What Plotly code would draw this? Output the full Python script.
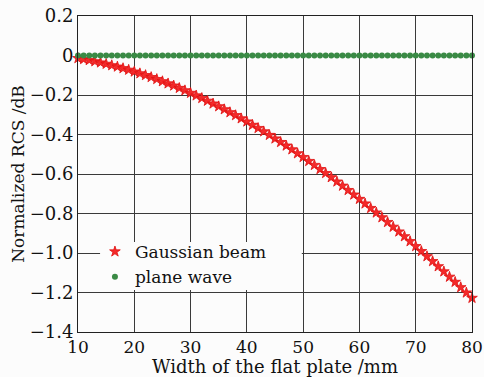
import plotly.graph_objects as go

width_mm = list(range(10, 81))
gaussian_beam = [
    -0.014, -0.019, -0.024, -0.030, -0.036, -0.043, -0.050, -0.057, -0.065, -0.073,
    -0.082, -0.091, -0.100, -0.110, -0.120, -0.131, -0.142, -0.153, -0.165, -0.177,
    -0.190, -0.203, -0.216, -0.230, -0.244, -0.258, -0.273, -0.288, -0.303, -0.319,
    -0.335, -0.352, -0.368, -0.385, -0.403, -0.421, -0.439, -0.457, -0.476, -0.496,
    -0.515, -0.535, -0.555, -0.576, -0.596, -0.617, -0.639, -0.660, -0.682, -0.705,
    -0.727, -0.750, -0.773, -0.796, -0.820, -0.844, -0.868, -0.892, -0.916, -0.941,
    -0.966, -0.991, -1.017, -1.042, -1.068, -1.094, -1.121, -1.147, -1.174, -1.201,
    -1.228,
]
plane_wave = [0.0] * 71

x_ticks = [10, 20, 30, 40, 50, 60, 70, 80]
y_ticks = [0.2, 0, -0.2, -0.4, -0.6, -0.8, -1.0, -1.2, -1.4]
y_tick_labels = ["0.2", "0", "\u22120.2", "\u22120.4", "\u22120.6", "\u22120.8",
                 "\u22121.0", "\u22121.2", "\u22121.4"]

FONT = "DejaVu Serif"
FS = 17
TFS = 18
BG = "#fcfcfc"

fig = go.Figure()
fig.add_trace(go.Scatter(
    x=width_mm, y=gaussian_beam, mode="markers", name="Gaussian beam",
    marker=dict(symbol="star", size=8, color="#f42a2a",
                line=dict(width=0.8, color="#e01010")),
    cliponaxis=False,
))
fig.add_trace(go.Scatter(
    x=width_mm, y=plane_wave, mode="markers", name="plane wave",
    marker=dict(symbol="circle", size=6, color="#3a8a45"),
    cliponaxis=False,
))

axis_common = dict(
    showgrid=True, gridcolor="#3a3a3a", gridwidth=1,
    showline=True, linecolor="#222222", linewidth=1, mirror=True,
    zeroline=False, ticks="", automargin=False,
)
fig.update_xaxes(range=[10, 80], tickvals=x_ticks,
                 ticktext=[str(v) for v in x_ticks],
                 tickfont=dict(family=FONT, size=17, color="#111"),
                 title=dict(text="Width of the flat plate /mm", standoff=0,
                            font=dict(family=FONT, size=18, color="#111")),
                 **axis_common)
fig.update_yaxes(range=[-1.4, 0.2], tickvals=y_ticks, ticktext=y_tick_labels,
                 tickfont=dict(family=FONT, size=TFS, color="#111"),
                 title=dict(text="Normalized RCS /dB", standoff=0,
                            font=dict(family=FONT, size=FS, color="#111")),
                 **axis_common)

# legend background panel (hides grid lines behind the legend)
fig.add_shape(type="rect", xref="paper", yref="paper",
              x0=0.056, x1=0.568, y0=0.133, y1=0.285,
              fillcolor=BG, line=dict(width=0), layer="above")

fig.update_layout(
    width=484, height=377,
    margin=dict(l=78, r=12, t=16, b=45),
    paper_bgcolor=BG, plot_bgcolor=BG,
    showlegend=True,
    legend=dict(x=0.043, y=0.31, xanchor="left", yanchor="top",
                bgcolor="rgba(0,0,0,0)", borderwidth=0,
                font=dict(family=FONT, size=FS, color="#111"),
                itemwidth=30, tracegroupgap=0),
)

fig.write_html("out.html", config={"displayModeBar": False},
               post_script=["document.body.style.margin='0';"])
